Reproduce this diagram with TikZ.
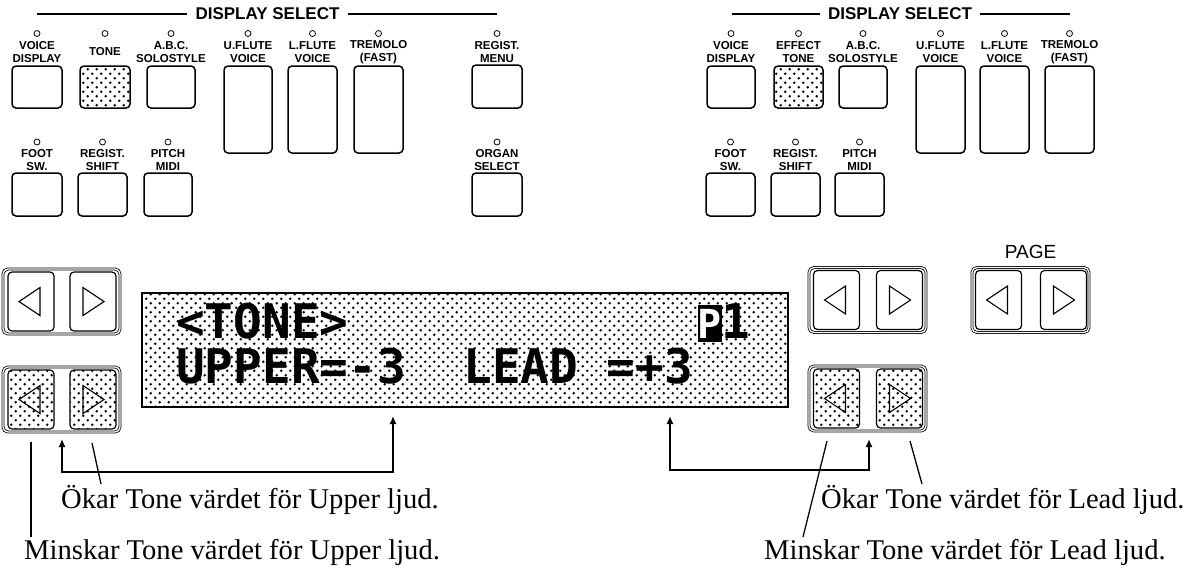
\documentclass[tikz,border=0pt]{standalone}
\usepackage{fontspec}
\setmainfont{Liberation Serif}
\setsansfont{Liberation Sans}
\setmonofont{DejaVu Sans Mono}
\usetikzlibrary{patterns,arrows.meta}
\pgfdeclarepatternformonly{lcddots}{\pgfqpoint{-1pt}{-1pt}}{\pgfqpoint{10pt}{10pt}}{\pgfqpoint{9pt}{9pt}}{%
  \pgfpathcircle{\pgfqpoint{2.25pt}{2.25pt}}{1.35pt}%
  \pgfpathcircle{\pgfqpoint{6.75pt}{6.75pt}}{1.35pt}%
  \pgfusepath{fill}}
\newcommand{\mkpair}[6]{%
  \node[pairframe] (#1) at (#2,#3) {};
  \node[pairbtn,#4,xshift=#5] (#1l) at (#2,#3) {};
  \node[pairbtn,#4,xshift=#6] (#1r) at (#2,#3) {};
  \draw[tri] ([xshift=-12pt]#1l.center) -- ([xshift=9pt,yshift=14pt]#1l.center) -- ([xshift=9pt,yshift=-14pt]#1l.center) -- cycle;
  \draw[tri] ([xshift=11pt]#1r.center) -- ([xshift=-10pt,yshift=14pt]#1r.center) -- ([xshift=-10pt,yshift=-14pt]#1r.center) -- cycle;
}
\begin{document}
\begin{tikzpicture}[x=1pt,y=-1pt,
  btn/.style={draw, line width=1.5pt, rounded corners=4pt, inner sep=0pt},
  dotfill/.style={pattern=lcddots, pattern color=black},
  lab/.style={font=\sffamily\bfseries\fontsize{11.5}{13.5}\selectfont, align=center, inner sep=0pt},
  led/.style={draw, circle, line width=0.8pt, minimum size=6pt, inner sep=0pt},
  hdr/.style={font=\sffamily\bfseries\fontsize{17}{17}\selectfont, inner sep=0pt},
  hline/.style={line width=1.2pt},
  pairframe/.style={draw, double, double distance=1.3pt, line width=0.8pt, rounded corners=5pt, minimum width=117pt, minimum height=65pt, inner sep=0pt},
  pairbtn/.style={draw, line width=1.2pt, rounded corners=4pt, minimum width=46pt, minimum height=59pt, inner sep=0pt},
  tri/.style={line width=1.1pt, line join=miter},
  lcd/.style={font=\ttfamily\bfseries\fontsize{47.7}{48}\selectfont, inner sep=0pt, anchor=base west},
  note/.style={font=\rmfamily\fontsize{28.6}{30}\selectfont, inner sep=0pt, anchor=base west},
  pointer/.style={line width=1.3pt},
  conn/.style={line width=1.5pt, {Latex[length=8pt,width=7pt]}-{Latex[length=8pt,width=7pt]}}
]
\useasboundingbox (0,0) rectangle (1190,571);

% ---------- headers ----------
\node[hdr] (ds1) at (267.5,14) {DISPLAY SELECT};
\coordinate (ds1a) at (37,14); \coordinate (ds1b) at (497,14);
\draw[hline] (ds1a) -- ([xshift=-8pt]ds1.west);
\draw[hline] ([xshift=8pt]ds1.east) -- (ds1b);
\node[hdr] (ds2) at (900,14) {DISPLAY SELECT};
\coordinate (ds2a) at (732,14); \coordinate (ds2b) at (1070,14);
\draw[hline] (ds2a) -- ([xshift=-8pt]ds2.west);
\draw[hline] ([xshift=8pt]ds2.east) -- (ds2b);

% ---------- left panel row 1 ----------
\node[btn, minimum width=50pt, minimum height=42pt] (voice1) at (37,87) {};
\node[btn, dotfill, minimum width=50pt, minimum height=42pt] (tone1) at (105,87) {};
\node[btn, minimum width=48pt, minimum height=42pt] (abc1) at (171,87) {};
\node[btn, minimum width=48pt, minimum height=87pt] (uflute1) at (248,109.5) {};
\node[btn, minimum width=49pt, minimum height=87pt] (lflute1) at (312.5,109.5) {};
\node[btn, minimum width=49pt, minimum height=87pt] (trem1) at (378.5,109.5) {};
\node[btn, minimum width=50pt, minimum height=43pt] (regmenu) at (497,86.5) {};
\foreach \n/\x in {lv1/37, lt1/105, la1/171, lu1/248, ll1/312.5, lr1/378.5, lm1/497}
  \node[led] (\n) at (\x,33.5) {};
\node[lab] (tvoice1) at (37,52) {VOICE\\DISPLAY};
\node[lab] (ttone1) at (105,52) {TONE};
\node[lab] (tabc1) at (171,52) {A.B.C.\\SOLOSTYLE};
\node[lab] (tuflute1) at (248,52) {U.FLUTE\\VOICE};
\node[lab] (tlflute1) at (312.5,52) {L.FLUTE\\VOICE};
\node[lab] (ttrem1) at (378.5,52) {TREMOLO\\(FAST)};
\node[lab] (tregmenu) at (497,52) {REGIST.\\MENU};

% ---------- left panel row 2 ----------
\node[btn, minimum width=50pt, minimum height=43pt] (foot1) at (37,194.5) {};
\node[btn, minimum width=49pt, minimum height=43pt] (rshift1) at (102.5,194.5) {};
\node[btn, minimum width=48pt, minimum height=43pt] (pitch1) at (168,194.5) {};
\node[btn, minimum width=50pt, minimum height=43pt] (organ) at (497,194.5) {};
\foreach \n/\x in {lf1/37, ls1/102.5, lp1/168, lo1/497}
  \node[led] (\n) at (\x,142) {};
\node[lab] (tfoot1) at (37,160) {FOOT\\SW.};
\node[lab] (trshift1) at (102.5,160) {REGIST.\\SHIFT};
\node[lab] (tpitch1) at (168,160) {PITCH\\MIDI};
\node[lab] (torgan) at (497,160) {ORGAN\\SELECT};

% ---------- right panel row 1 ----------
\node[btn, minimum width=48pt, minimum height=42pt] (voice2) at (731,87) {};
\node[btn, dotfill, minimum width=49pt, minimum height=42pt] (effect2) at (798.5,87) {};
\node[btn, minimum width=48pt, minimum height=42pt] (abc2) at (863,87) {};
\node[btn, minimum width=49pt, minimum height=87pt] (uflute2) at (940.5,109.5) {};
\node[btn, minimum width=49pt, minimum height=87pt] (lflute2) at (1004.5,109.5) {};
\node[btn, minimum width=49pt, minimum height=87pt] (trem2) at (1069.5,109.5) {};
\foreach \n/\x in {rv2/731, re2/798.5, ra2/863, ru2/940.5, rl2/1004.5, rt2/1069.5}
  \node[led] (\n) at (\x,33.5) {};
\node[lab] (tvoice2) at (731,52) {VOICE\\DISPLAY};
\node[lab] (teffect2) at (798.5,52) {EFFECT\\TONE};
\node[lab] (tabc2) at (863,52) {A.B.C.\\SOLOSTYLE};
\node[lab] (tuflute2) at (940.5,52) {U.FLUTE\\VOICE};
\node[lab] (tlflute2) at (1004.5,52) {L.FLUTE\\VOICE};
\node[lab] (ttrem2) at (1069.5,52) {TREMOLO\\(FAST)};

% ---------- right panel row 2 ----------
\node[btn, minimum width=49pt, minimum height=43pt] (foot2) at (730.5,194.5) {};
\node[btn, minimum width=49pt, minimum height=43pt] (rshift2) at (795.5,194.5) {};
\node[btn, minimum width=49pt, minimum height=43pt] (pitch2) at (859.5,194.5) {};
\foreach \n/\x in {rf2/730.5, rs2/795.5, rp2/859.5}
  \node[led] (\n) at (\x,142) {};
\node[lab] (tfoot2) at (730.5,160) {FOOT\\SW.};
\node[lab] (trshift2) at (795.5,160) {REGIST.\\SHIFT};
\node[lab] (tpitch2) at (859.5,160) {PITCH\\MIDI};

% ---------- arrow pairs ----------
\mkpair{pA}{61.5}{301.5}{}{-30.5pt}{31.5pt}
\mkpair{pB}{61.5}{399.5}{dotfill}{-30.5pt}{31.5pt}
\mkpair{pC}{867.5}{300}{}{-31pt}{32pt}
\mkpair{pD}{867.5}{398.5}{dotfill}{-31pt}{32pt}
\mkpair{pE}{1030.5}{300}{}{-32pt}{33pt}
\node[font=\sffamily\fontsize{19}{19}\selectfont, inner sep=0pt] (page) at (1030.5,252) {PAGE};

% ---------- display ----------
\node[draw, line width=2pt, dotfill, minimum width=646pt, minimum height=114pt, inner sep=0pt] (disp) at (465,350) {};
\node[lcd] (lcdA) at (176,338) {<TONE>};
\node[fill=black, text=white, minimum width=22pt, minimum height=37pt, inner sep=0pt,
      font=\ttfamily\bfseries\fontsize{40}{40}\selectfont] (pbox) at (710,323.5) {P};
\node[lcd] (lcdB) at (721,338) {1};
\node[lcd] (lcdC) at (176,383) {UPPER=-3~~LEAD~=+3};

% ---------- connectors ----------
\coordinate (cL1) at (393,416);
\coordinate (cL2) at (62,439);
\draw[conn] (cL1) -- ++(0,56) -| (cL2);
\coordinate (cR1) at (670,416);
\coordinate (cR2) at (869,439);
\draw[conn] (cR1) -- ++(0,54) -| (cR2);

% ---------- pointers and notes ----------
\coordinate (mL1) at (31,442); \coordinate (mL2) at (31,537);
\draw[pointer] (mL1) -- (mL2);
\coordinate (oL1) at (92,443); \coordinate (oL2) at (101,484);
\draw[pointer] (oL1) -- (oL2);
\coordinate (mR1) at (827,441); \coordinate (mR2) at (803,537);
\draw[pointer] (mR1) -- (mR2);
\coordinate (oR1) at (910,441); \coordinate (oR2) at (922,484);
\draw[pointer] (oR1) -- (oR2);

\node[note] (nOL) at (61,508) {Ökar Tone värdet för Upper ljud.};
\node[note] (nML) at (24,559) {Minskar Tone värdet för Upper ljud.};
\node[note] (nOR) at (821,508) {Ökar Tone värdet för Lead ljud.};
\node[note] (nMR) at (764,559) {Minskar Tone värdet för Lead ljud.};
\end{tikzpicture}
\end{document}
